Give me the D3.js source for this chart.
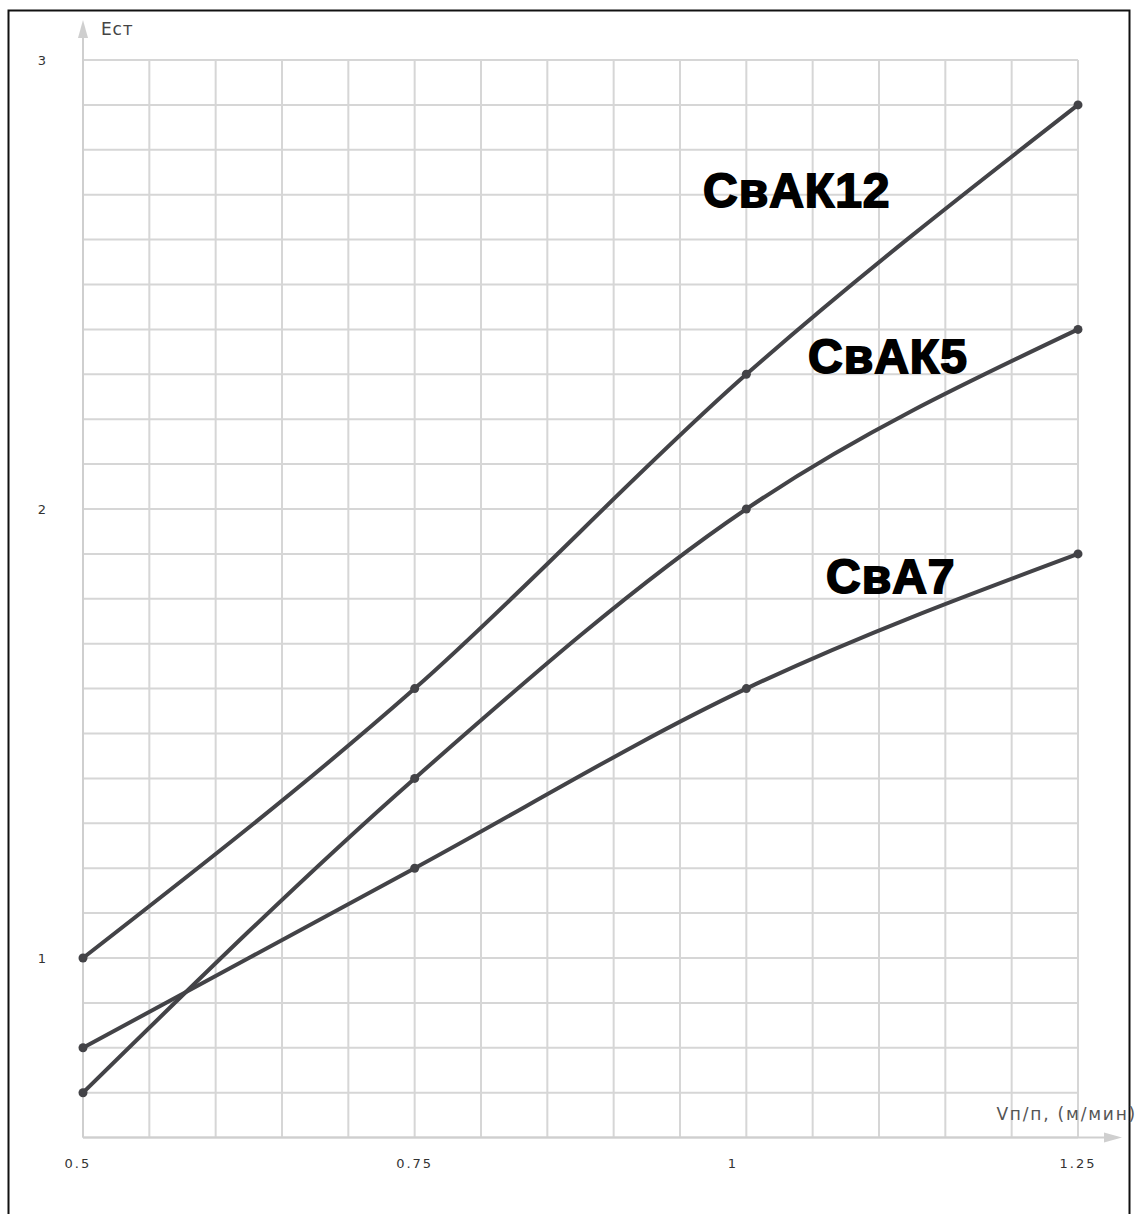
<!DOCTYPE html>
<html>
<head>
<meta charset="utf-8">
<script src="https://cdn.jsdelivr.net/npm/d3@7"></script>
<style>
  html, body { margin: 0; padding: 0; background: #fff; }
  svg { display: block; }
</style>
</head>
<body>
<svg id="chart" width="1138" height="1214"></svg>
<script>
// Speed of the conveyor, m/min
const speeds = [0.5, 0.75, 1.0, 1.25];
// Series names and their Ест values at each speed
const seriesNames = ["СвАК12", "СвАК5", "СвА7"];
const valuesAK12 = [1.0, 1.6, 2.3, 2.9];
const valuesAK5  = [0.7, 1.4, 2.0, 2.4];
const valuesA7   = [0.8, 1.2, 1.6, 1.9];
const xTickValues = [0.5, 0.75, 1, 1.25];
const xTickLabels = ["0.5", "0.75", "1", "1.25"];
const yTickValues = [1, 2, 3];
const yTickLabels = ["1", "2", "3"];

const series = [
  { name: seriesNames[0], values: valuesAK12, label: [703, 207] },
  { name: seriesNames[1], values: valuesAK5,  label: [808, 373] },
  { name: seriesNames[2], values: valuesA7,   label: [826, 593] }
];

const svg = d3.select("#chart");
const x = d3.scaleLinear().domain([0.5, 1.25]).range([83, 1078]);
const y = d3.scaleLinear().domain([1, 3]).range([958, 60]);
const yBottom = 0.6;

// frame around the figure
svg.append("rect")
  .attr("x", 8.5).attr("y", 10.5)
  .attr("width", 1121).attr("height", 1220)
  .attr("fill", "none").attr("stroke", "#111").attr("stroke-width", 2);

// grid: every 0.05 along x, every 0.1 along y
const grid = svg.append("g").attr("stroke", "#d6d6d6").attr("stroke-width", 2);
const xGrid = d3.range(0, 16).map(i => 0.5 + i * 0.05);
const yGrid = d3.range(0, 25).map(i => 0.6 + i * 0.1);
grid.selectAll(".vx").data(xGrid).join("line")
  .attr("x1", d => x(d)).attr("x2", d => x(d))
  .attr("y1", y(3)).attr("y2", y(yBottom));
grid.selectAll(".hy").data(yGrid).join("line")
  .attr("x1", x(0.5)).attr("x2", x(1.25))
  .attr("y1", d => y(d)).attr("y2", d => y(d));

// axes with arrows
const axisColor = "#cfcfcf";
svg.append("line")
  .attr("x1", x(0.5)).attr("x2", x(0.5))
  .attr("y1", y(yBottom)).attr("y2", 30)
  .attr("stroke", axisColor).attr("stroke-width", 2);
svg.append("path")
  .attr("d", `M${x(0.5)-5},38 L${x(0.5)},20 L${x(0.5)+5},38 Z`)
  .attr("fill", axisColor);
svg.append("line")
  .attr("x1", x(0.5)).attr("x2", 1112)
  .attr("y1", y(yBottom)).attr("y2", y(yBottom))
  .attr("stroke", axisColor).attr("stroke-width", 2);
svg.append("path")
  .attr("d", `M1104,${y(yBottom)-5} L1122,${y(yBottom)} L1104,${y(yBottom)+5} Z`)
  .attr("fill", axisColor);

// axis titles
svg.append("text").attr("x", 101).attr("y", 35)
  .attr("font-family", "DejaVu Sans, sans-serif").attr("font-size", 17)
  .attr("letter-spacing", 0.8)
  .attr("fill", "#444").text("Ест");
svg.append("text").attr("x", 1137).attr("y", 1120)
  .attr("text-anchor", "end")
  .attr("font-family", "DejaVu Sans, sans-serif").attr("font-size", 17)
  .attr("letter-spacing", 1.8)
  .attr("fill", "#555").text("Vп/п, (м/мин)");

// tick labels via d3 axes (no lines)
const xAxis = d3.axisBottom(x).tickValues(xTickValues)
  .tickFormat((d, i) => xTickLabels[i]).tickSize(0).tickPadding(0);
const gx = svg.append("g").attr("transform", `translate(0,${y(yBottom) + 30})`).call(xAxis);
gx.select(".domain").remove();
gx.selectAll("text")
  .attr("text-anchor", "start").attr("dx", -19).attr("dy", 0)
  .attr("font-family", "DejaVu Sans, sans-serif").attr("font-size", 13)
  .attr("letter-spacing", 2).attr("fill", "#333");

const yAxis = d3.axisLeft(y).tickValues(yTickValues)
  .tickFormat((d, i) => yTickLabels[i]).tickSize(0).tickPadding(0);
const gy = svg.append("g").attr("transform", "translate(46,0)").call(yAxis);
gy.select(".domain").remove();
gy.selectAll("text")
  .attr("font-family", "DejaVu Sans, sans-serif").attr("font-size", 13)
  .attr("fill", "#333");

// series lines and points
const lineColor = "#434347";
const line = d3.line()
  .x((d, i) => x(speeds[i]))
  .y(d => y(d))
  .curve(d3.curveMonotoneX);

const gs = svg.append("g");
series.forEach(s => {
  gs.append("path")
    .attr("d", line(s.values))
    .attr("fill", "none").attr("stroke", lineColor)
    .attr("stroke-width", 4).attr("stroke-linecap", "round");
  gs.selectAll(null).data(s.values).join("circle")
    .attr("cx", (d, i) => x(speeds[i])).attr("cy", d => y(d))
    .attr("r", 4.5).attr("fill", lineColor);
});

// series names
series.forEach(s => {
  svg.append("text")
    .attr("x", s.label[0]).attr("y", s.label[1])
    .attr("font-family", "Liberation Sans, Arial, sans-serif")
    .attr("font-weight", "bold").attr("font-size", 48)
    .attr("letter-spacing", 1)
    .attr("fill", "#000")
    .attr("stroke", "#000").attr("stroke-width", 1.8)
    .text(s.name);
});
</script>
</body>
</html>
